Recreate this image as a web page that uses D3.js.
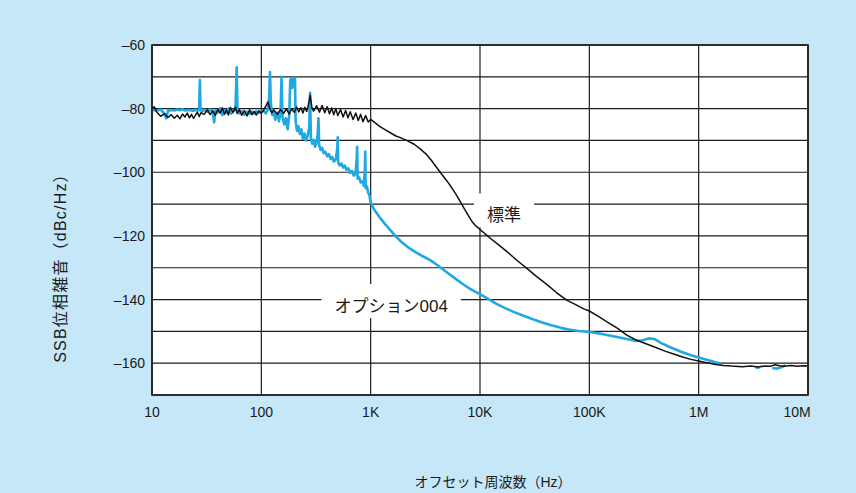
<!DOCTYPE html>
<html>
<head>
<meta charset="utf-8">
<script src="https://cdn.jsdelivr.net/npm/d3@7"></script>
<style>
  body { margin: 0; background: #c6e7f7; }
  #chart { width: 856px; height: 493px; }
  .grid line { stroke: #1c1c1c; stroke-width: 1.2; }
  .tick-label { font-family: "Liberation Sans", Arial, sans-serif; font-size: 14px; fill: #1a1a1a; }
  .title { font-family: "Liberation Sans", "Noto Sans CJK JP", sans-serif; font-size: 14px; fill: #1a1a1a; }
  .ytitle { font-size: 16px; letter-spacing: 1.2px; }
  .note { font-family: "Liberation Sans", "Noto Sans CJK JP", sans-serif; font-size: 17px; fill: #1a1a1a; }
</style>
</head>
<body>
<div id="chart"></div>
<script>
// axis ticks
var xTicks = [10, 100, 1e3, 1e4, 1e5, 1e6, 1e7];
var xTickLabels = ["10", "100", "1K", "10K", "100K", "1M", "10M"];
var yTicks = [-60, -80, -100, -120, -140, -160];
var yGrid = [-60, -70, -80, -90, -100, -110, -120, -130, -140, -150, -160, -170];

// 標準 (standard) trace
var stdFreq = [10, 10.5, 11, 12, 13, 14, 15, 16, 17, 18, 19, 20, 21, 22, 23, 24, 25, 26, 27, 28,
  30, 32, 34, 36, 38, 40, 42, 44, 46, 48, 50, 52, 55, 58, 60, 63, 66, 70, 74, 78,
  82, 86, 90, 95, 100, 105, 110, 115, 120, 125, 130, 140, 150, 160, 170, 180, 190, 200, 210, 220,
  230, 240, 250, 260, 270, 280, 290, 300, 320, 340, 360, 380, 400, 420, 440, 460, 480, 500, 530, 560,
  590, 620, 650, 690, 730, 770, 810, 850, 900, 950, 1000, 1100, 1200, 1350, 1500, 1700, 1900, 2200, 2500, 2800,
  3200, 3600, 4000, 4500, 5000, 5500, 6000, 6500, 7000, 7500, 8000, 8500, 9000, 10000, 11000, 12500, 15000, 18000, 22000, 27000,
  33000, 40000, 50000, 62000, 75000, 90000, 100000, 120000, 150000, 180000, 220000, 270000, 330000, 400000, 500000, 600000, 700000, 850000, 1000000, 1370000,
  1700000, 2000000, 2500000, 3000000, 3500000, 4000000, 4500000, 5000000, 5500000, 6000000, 7000000, 8000000, 9000000, 10000000];
var stdDb = [-80.0, -79.4, -81.0, -82.4, -81.6, -82.8, -81.9, -83.0, -82.1, -83.2, -81.7, -82.6, -81.4, -82.9, -81.8, -83.1, -82.0, -81.1, -82.5, -81.3,
  -81.8, -80.4, -81.9, -80.6, -82.1, -80.2, -81.4, -79.8, -81.8, -80.4, -82.0, -79.6, -81.2, -79.5, -81.5, -80.3, -82.1, -80.6, -82.3, -80.4,
  -81.9, -80.9, -82.0, -80.7, -81.4, -80.5, -79.2, -77.9, -80.2, -81.3, -80.4, -81.8, -80.3, -81.5, -80.1, -81.7, -80.0, -81.2, -79.5, -81.0,
  -79.7, -81.4, -79.6, -80.9, -78.6, -75.8, -79.6, -80.8, -79.1, -81.1, -79.0, -81.3, -79.4, -81.6, -79.8, -81.9, -80.0, -82.2, -80.3, -82.6,
  -80.6, -82.9, -81.0, -83.4, -81.4, -83.7, -81.8, -84.1, -82.2, -84.2, -83.4, -84.5, -85.5, -86.6, -87.5, -88.6, -89.2, -90.2, -91.2, -92.5,
  -94.2, -96.3, -98.4, -100.8, -102.8, -104.8, -106.8, -108.8, -110.8, -112.5, -114.2, -115.6, -116.6, -118.0, -119.2, -120.8, -123.0, -125.2, -127.8, -130.3,
  -132.8, -135.0, -137.8, -140.2, -141.6, -143.0, -143.6, -145.2, -147.3, -149.0, -151.2, -152.8, -153.9, -155.0, -156.3, -157.2, -158.0, -158.8, -159.3, -160.3,
  -160.7, -160.9, -161.1, -160.9, -161.2, -160.9, -161.0, -160.5, -160.8, -161.0, -160.7, -161.0, -160.8, -160.9];

// オプション004 trace, null marks a break in the trace
var optFreq = [10, 11, 12, 13, 13.5, 14, 15, 16, 17, 18, 19, 20, 22, 24, 25, 26, 27, 27.4, 27.8, 29,
  30, 32, 34, 36, 37, 38, 40, 42, 44, 46, 48, 50, 53, 56, 58, 59.5, 60.5, 63, 66, 70,
  74, 78, 82, 86, 90, 95, 100, 105, 110, 115, 118, 120, 122, 126, 130, 134, 140, 145, 150, 153,
  156, 162, 168, 174, 180, 184, 188, 192, 196, 200, 203, 206, 212, 218, 225, 232, 240, 248, 256, 265,
  274, 279, 284, 292, 300, 310, 320, 328, 333, 338, 348, 360, 372, 385, 400, 415, 430, 445, 460, 480,
  495, 500, 505, 520, 540, 560, 580, 600, 625, 650, 675, 700, 725, 745, 752, 760, 785, 810, 840, 865,
  885, 892, 900, 925, 950, 975, 1000, 1050, 1100, 1200, 1350, 1500, 1700, 1900, 2200, 2600, 3000, 3500, 4000, 4500,
  5000, 6000, 7000, 8000, 9000, 10000, 12000, 14000, 17000, 20000, 25000, 30000, 37000, 45000, 55000, 65000, 80000, 100000, 130000, 170000,
  220000, 270000, 310000, 350000, 400000, 450000, 550000, 700000, 850000, 1000000, 1300000, 1600000, 1700000, 3300000, 3600000, 3700000, 4700000, 5200000, 5800000, 6200000];
var optDb = [-80.4, -80.6, -80.3, -81.6, -83.0, -80.7, -80.4, -80.6, -80.3, -80.5, -80.2, -80.6, -80.4, -80.7, -80.3, -80.6, -80.4, -71.0, -80.5, -80.8,
  -80.3, -81.0, -80.2, -81.4, -84.3, -80.6, -81.2, -79.8, -82.0, -80.5, -81.3, -80.0, -81.6, -80.7, -80.3, -67.0, -80.6, -81.5, -80.8, -81.9,
  -81.0, -81.7, -80.9, -81.5, -80.8, -81.3, -81.0, -80.6, -81.5, -80.2, -76.5, -68.5, -78.0, -82.0, -81.0, -83.5, -81.2, -84.0, -80.8, -70.0,
  -82.5, -85.0, -83.0, -86.5, -82.0, -71.0, -70.4, -73.5, -70.6, -72.0, -70.4, -84.0, -87.0, -85.5, -88.0, -86.5, -89.5, -87.8, -90.0, -88.6,
  -86.0, -75.0, -89.5, -91.0, -89.8, -92.0, -90.8, -88.0, -83.0, -91.5, -93.0, -92.3, -94.0, -93.5, -95.0, -94.3, -95.8, -95.2, -96.6, -96.0,
  -92.5, -89.0, -97.0, -97.8, -97.2, -98.5, -97.9, -99.2, -98.8, -100.2, -99.6, -101.0, -100.6, -96.0, -92.0, -102.0, -101.6, -103.2, -102.8, -104.2,
  -99.0, -93.5, -105.0, -104.4, -106.5, -107.2, -109.5, -111.0, -112.2, -114.0, -116.2, -118.0, -120.2, -121.8, -123.6, -125.2, -126.4, -127.6, -129.0, -130.3,
  -131.5, -133.5, -135.2, -136.5, -137.5, -138.3, -139.9, -141.3, -142.7, -143.8, -145.1, -146.1, -147.2, -148.1, -148.9, -149.4, -149.9, -150.2, -150.8, -151.6,
  -152.4, -153.0, -152.8, -152.2, -152.5, -153.6, -155.0, -156.5, -157.5, -158.2, -159.3, -160.2, null, -161.3, -161.5, null, -161.5, -161.7, -161.2, -160.6];

// labels placed on the chart (frequency, dB of text centre)
var noteText = ["標準", "オプション004"];
var noteFreq = [16600, 1540];
var noteDb = [-113.5, -142.0];

var width = 856, height = 493;
var plot = { left: 152, right: 808, top: 45, bottom: 395 };

var svg = d3.select("#chart").append("svg")
  .attr("width", width)
  .attr("height", height);

var x = d3.scaleLog().domain([10, 1e7]).range([plot.left, plot.right]);
var y = d3.scaleLinear().domain([-60, -170]).range([plot.top, plot.bottom]);

// plot background
svg.append("rect")
  .attr("x", plot.left).attr("y", plot.top)
  .attr("width", plot.right - plot.left).attr("height", plot.bottom - plot.top)
  .attr("fill", "#ffffff");

// grid lines
var grid = svg.append("g").attr("class", "grid");
grid.selectAll(".h").data(yGrid).enter().append("line")
  .attr("x1", plot.left).attr("x2", plot.right)
  .attr("y1", function (d) { return y(d); })
  .attr("y2", function (d) { return y(d); });
grid.selectAll(".v").data(xTicks).enter().append("line")
  .attr("y1", plot.top).attr("y2", plot.bottom)
  .attr("x1", function (d) { return x(d); })
  .attr("x2", function (d) { return x(d); });

// white boxes behind the labels, they cut the grid lines
var notes = svg.append("g");
var noteG = notes.selectAll("g").data(noteText).enter().append("g");
noteG.append("rect").attr("fill", "#ffffff");
noteG.append("text")
  .attr("class", "note")
  .attr("x", function (d, i) { return x(noteFreq[i]); })
  .attr("y", function (d, i) { return y(noteDb[i]); })
  .attr("dy", "0.36em")
  .style("text-anchor", "middle")
  .text(function (d) { return d; });
noteG.each(function () {
  var g = d3.select(this);
  var b = g.select("text").node().getBBox();
  g.select("rect")
    .attr("x", b.x - 13).attr("y", b.y - 13)
    .attr("width", b.width + 26).attr("height", b.height + 15);
});

// traces
function toPoints(freq, db) {
  return freq.map(function (f, i) { return [f, db[i]]; });
}
var line = d3.line()
  .defined(function (d) { return d[1] !== null; })
  .x(function (d) { return x(d[0]); })
  .y(function (d) { return y(d[1]); });

svg.append("path")
  .attr("d", line(toPoints(optFreq, optDb)))
  .attr("fill", "none")
  .attr("stroke", "#1fa8e2")
  .attr("stroke-width", 2.6)
  .attr("stroke-linejoin", "round");

svg.append("path")
  .attr("d", line(toPoints(stdFreq, stdDb)))
  .attr("fill", "none")
  .attr("stroke", "#111111")
  .attr("stroke-width", 1.5)
  .attr("stroke-linejoin", "round");

// frame
svg.append("rect")
  .attr("x", plot.left).attr("y", plot.top)
  .attr("width", plot.right - plot.left).attr("height", plot.bottom - plot.top)
  .attr("fill", "none")
  .attr("stroke", "#1a1a1a")
  .attr("stroke-width", 1.6);

// tick labels
svg.selectAll(".ylab").data(yTicks).enter().append("text")
  .attr("class", "tick-label")
  .attr("x", plot.left - 7)
  .attr("y", function (d) { return y(d); })
  .attr("dy", "0.36em")
  .style("text-anchor", "end")
  .text(function (d) { return "–" + Math.abs(d); });

svg.selectAll(".xlab").data(xTicks).enter().append("text")
  .attr("class", "tick-label")
  .attr("x", function (d, i) { return x(d) - (i === xTicks.length - 1 ? 11 : 0); })
  .attr("y", plot.bottom + 17)
  .attr("dy", "0.36em")
  .style("text-anchor", "middle")
  .text(function (d, i) { return xTickLabels[i]; });

// axis titles
svg.append("text")
  .attr("class", "title ytitle")
  .attr("transform", "translate(60," + 264 + ") rotate(-90)")
  .attr("dy", "0.36em")
  .style("text-anchor", "middle")
  .text("SSB位相雑音（dBc/Hz）");

svg.append("text")
  .attr("class", "title")
  .attr("x", 493)
  .attr("y", 482)
  .attr("dy", "0.36em")
  .style("text-anchor", "middle")
  .text("オフセット周波数（Hz）");
</script>
</body>
</html>
